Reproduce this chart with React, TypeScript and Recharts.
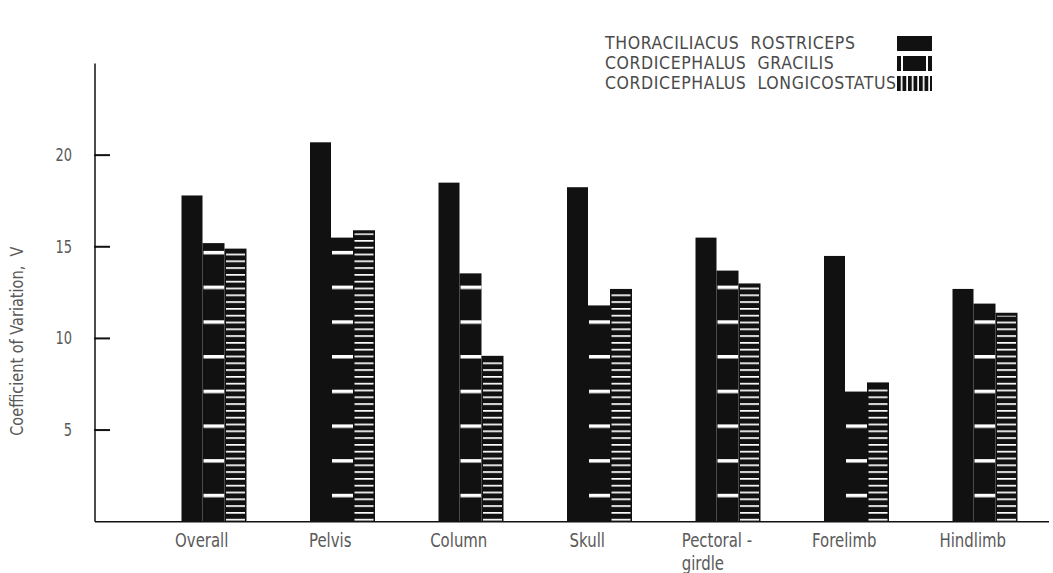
import React from 'react';
import { BarChart, Bar, XAxis, YAxis } from 'recharts';

// regions of the skeleton
const categories = ['Overall', 'Pelvis', 'Column', 'Skull', 'Pectoral -\ngirdle', 'Forelimb', 'Hindlimb'];

// coefficient of variation, V
const rostriceps = [17.8, 20.7, 18.5, 18.25, 15.5, 14.5, 12.7];
const gracilis = [15.2, 15.5, 13.55, 11.8, 13.7, 7.1, 11.9];
const longicostatus = [14.9, 15.9, 9.05, 12.7, 13.0, 7.6, 11.4];

const seriesNames = ['THORACILIACUS  ROSTRICEPS', 'CORDICEPHALUS  GRACILIS', 'CORDICEPHALUS  LONGICOSTATUS'];
const yTicks = [5, 10, 15, 20];

const FONT = "'DejaVu Sans Condensed', 'DejaVu Sans', sans-serif";
const INK = '#111';
const GREY = '#5a5a5a';

const data = categories.map((name, i) => ({
  name,
  rostriceps: rostriceps[i],
  gracilis: gracilis[i],
  longicostatus: longicostatus[i],
}));

const SolidBar = (p: any) => <rect x={p.x} y={p.y} width={p.width} height={p.height} fill={INK} />;

const DashBar = (p: any) => (
  <g>
    <rect x={p.x} y={p.y} width={p.width} height={p.height} fill={INK} />
    <rect x={p.x + 1} y={p.y + 4} width={Math.max(0, p.width - 1)} height={Math.max(0, p.height - 4)} fill='url(#dashes)' />
  </g>
);

const LineBar = (p: any) => (
  <g>
    <rect x={p.x} y={p.y} width={p.width} height={p.height} fill={INK} />
    <rect x={p.x + 1.5} y={p.y + 3} width={Math.max(0, p.width - 3)} height={Math.max(0, p.height - 3)} fill='url(#lines)' />
  </g>
);

// tick label plus a short mark pointing into the plot
const YTick = ({ x, y, payload }: any) => (
  <g>
    <g transform={`translate(${x},${y + 6}) scale(0.85,1)`}>
      <text x={0} y={0} textAnchor='end' fill={GREY} fontSize={17} fontFamily={FONT}>
        {payload.value}
      </text>
    </g>
    <rect x={x + 22} y={y - 1} width={16} height={2} fill={INK} />
  </g>
);

const XTick = ({ x, y, payload }: any) => {
  const lines = String(payload.value).split('\n');
  if (lines.length > 1) {
    return (
      <g transform={`translate(${x - 46},${y}) scale(0.83,1)`}>
        <text x={0} y={0} textAnchor='start' fill={GREY} fontSize={20} fontFamily={FONT}>
          {lines.map((l, i) => (
            <tspan key={i} x={0} dy={i === 0 ? 17 : 23}>{l}</tspan>
          ))}
        </text>
      </g>
    );
  }
  return (
    <g transform={`translate(${x - 12},${y + 17}) scale(0.83,1)`}>
      <text x={0} y={0} textAnchor='middle' fill={GREY} fontSize={20} fontFamily={FONT}>
        {payload.value}
      </text>
    </g>
  );
};

const YLabel = ({ viewBox }: any) => {
  const cx = 17;
  const cy = viewBox.y + viewBox.height * 0.606;
  return (
    <g transform={`translate(${cx},${cy}) rotate(-90) scale(0.95,1)`}>
      <text x={0} y={0} textAnchor='middle' dominantBaseline='central' fill={GREY} fontSize={17} fontFamily={FONT} style={{ whiteSpace: 'pre' }}>
        Coefficient of Variation,  V
      </text>
    </g>
  );
};

const swatchFills = [INK, 'url(#legendGap)', 'url(#legendStripes)'];

const LegendBox = () => (
  <svg width={340} height={70} style={{ position: 'absolute', left: 600, top: 33 }}>
    {seriesNames.map((n, i) => (
      <g key={n}>
        <text x={5} y={10 + i * 20} dy={6} fill='#4a4a4a' fontSize={17.5} fontFamily={FONT} style={{ whiteSpace: 'pre', letterSpacing: 0.6 }}>
          {n}
        </text>
        <rect x={297} y={3 + i * 20} width={35} height={15} fill={swatchFills[i]} />
      </g>
    ))}
  </svg>
);

export default function App() {
  return (
    <div style={{ position: 'absolute', left: 0, top: 0, width: 1053, height: 573, background: '#fff' }}>
      <svg width={0} height={0} style={{ position: 'absolute' }}>
        <defs>
          <pattern id='dashes' patternUnits='userSpaceOnUse' width={400} height={34.7} y={8}>
            <rect x={0} y={0} width={400} height={3.5} fill='#fff' />
          </pattern>
          <pattern id='lines' patternUnits='userSpaceOnUse' width={400} height={6.8} y={2}>
            <rect x={0} y={0} width={400} height={1.7} fill='#fff' />
          </pattern>
          <pattern id='legendGap' patternUnits='objectBoundingBox' width={1} height={1}>
            <rect x={0} y={0} width={35} height={15} fill={INK} />
            <rect x={4} y={0} width={2} height={15} fill='#fff' />
            <rect x={29} y={0} width={2} height={15} fill='#fff' />
          </pattern>
          <pattern id='legendStripes' patternUnits='userSpaceOnUse' width={5.5} height={400}>
            <rect x={0} y={0} width={5.5} height={400} fill={INK} />
            <rect x={3.8} y={0} width={1.7} height={400} fill='#fff' />
          </pattern>
        </defs>
      </svg>
      <BarChart
        width={1053}
        height={573}
        data={data}
        margin={{ top: 63.5, right: 4, left: 35, bottom: 21.3 }}
        barGap={0}
        barCategoryGap={0}
      >
        <XAxis
          dataKey='name'
          interval={0}
          axisLine={{ stroke: INK, strokeWidth: 1.5 }}
          tickLine={false}
          tick={<XTick />}
          height={30}
          padding={{ left: 54.5, right: 0 }}
        />
        <YAxis
          domain={[0, 25]}
          ticks={yTicks}
          width={60}
          axisLine={{ stroke: INK, strokeWidth: 1.5 }}
          tickLine={false}
          tickSize={0}
          tickMargin={23}
          tick={<YTick />}
          label={<YLabel />}
        />
        <Bar dataKey='rostriceps' name={seriesNames[0]} barSize={21} shape={<SolidBar />} isAnimationActive={false} />
        <Bar dataKey='gracilis' name={seriesNames[1]} barSize={22} shape={<DashBar />} isAnimationActive={false} />
        <Bar dataKey='longicostatus' name={seriesNames[2]} barSize={22} shape={<LineBar />} isAnimationActive={false} />
      </BarChart>
      <LegendBox />
    </div>
  );
}
